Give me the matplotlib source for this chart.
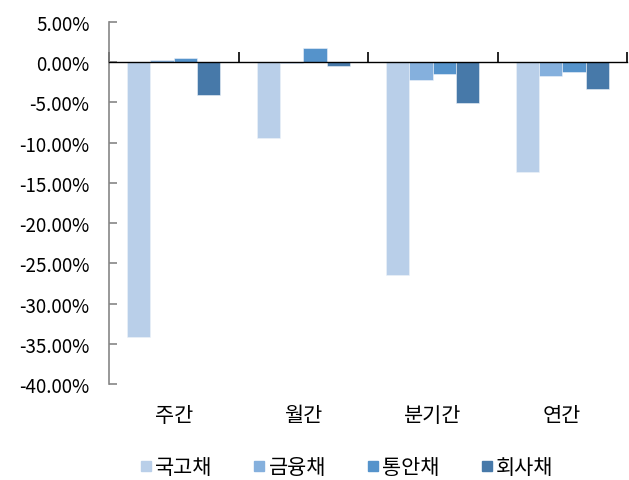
import matplotlib
matplotlib.use("Agg")
import matplotlib.pyplot as plt
import matplotlib.transforms as mtransforms
import numpy as np
from matplotlib.lines import Line2D

plt.rcParams['font.family'] = ['Noto Sans CJK KR', 'DejaVu Sans']

categories = ['주간', '월간', '분기간', '연간']
series_names = ['국고채', '금융채', '통안채', '회사채']
gov = [-34.1, -9.4, -26.4, -13.6]
fin = [0.3, -0.1, -2.25, -1.8]
msb = [0.5, 1.75, -1.5, -1.2]
corp = [-4.1, -0.55, -5.1, -3.4]
yticks = [5, 0, -5, -10, -15, -20, -25, -30, -35, -40]

colors = ['#B9CFE9', '#85B0DD', '#5593CB', '#4779A9']
series = [gov, fin, msb, corp]

fig = plt.figure(figsize=(6.29, 4.81), dpi=100)
W, H = 629, 481
left, right, top, bottom = 109, 627, 22.7, 385.3
ax = fig.add_axes([left / W, 1 - bottom / H, (right - left) / W, (bottom - top) / H])

x = np.arange(len(categories))
bw = 0.18
for i, (vals, c) in enumerate(zip(series, colors)):
    ax.bar(x + (i - 1.5) * bw, vals, bw, color=c, edgecolor='#EEF3FA', linewidth=0.4,
           label=series_names[i], zorder=2)

ax.set_xlim(-0.5, len(categories) - 0.5)
ax.set_ylim(-40, 5)
ax.set_yticks(yticks)
ax.set_yticklabels([f'{v:.2f}%' for v in yticks], fontsize=13.5)

for s in ['top', 'right']:
    ax.spines[s].set_visible(False)
ax.spines['left'].set_color('#868686')
ax.spines['left'].set_linewidth(1.2)
ax.spines['bottom'].set_position(('data', 0))
ax.spines['bottom'].set_color('black')
ax.spines['bottom'].set_linewidth(1.0)
ax.spines['bottom'].set_zorder(4)

ax.set_xticks(np.arange(-0.5, len(categories), 1.0))
ax.set_xticklabels([])
ax.tick_params(axis='x', direction='in', length=7, width=1.2, color='black')
ax.tick_params(axis='y', direction='in', length=6, width=1.2, color='#868686', pad=14)

trans = mtransforms.blended_transform_factory(ax.transData, ax.transAxes)
for xi, cat in zip(x, categories):
    ax.text(xi, -0.085, cat, transform=trans, ha='center', va='center', fontsize=15)

handles = [Line2D([0], [0], marker='s', linestyle='none', markersize=7.5, markerfacecolor=c,
                  markeredgecolor=c) for c in colors]
fig.legend(handles, series_names, loc='center', bbox_to_anchor=(0.549, 1 - 468 / H), ncol=4,
           frameon=False, fontsize=15, handletextpad=0.05, columnspacing=1.85, handlelength=0.8)

fig.savefig('out.png', dpi=100)
